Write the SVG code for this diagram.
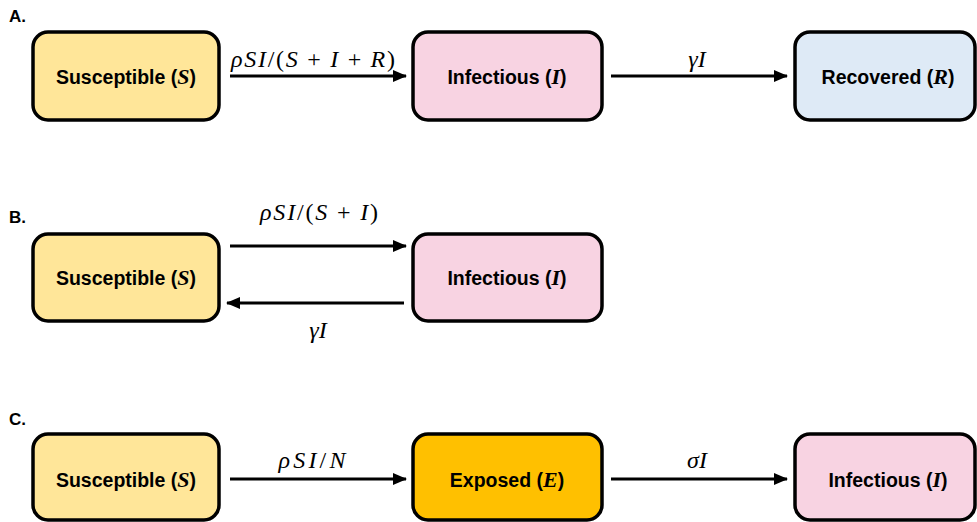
<svg xmlns="http://www.w3.org/2000/svg" width="977" height="522" viewBox="0 0 977 522">
<defs>
<marker id="ah" markerUnits="userSpaceOnUse" markerWidth="14" markerHeight="12" refX="13" refY="6" orient="auto">
<path d="M0,0 L14,6 L0,12 Z" fill="#000"/>
</marker>
<style>
.box{stroke:#000;stroke-width:3.5}
.s{fill:#FFE699}
.i{fill:#F8D3E2}
.r{fill:#DEEAF6}
.e{fill:#FFC000}
.nt{font-family:"Liberation Sans",Arial,sans-serif;font-weight:bold;font-size:19.5px;text-anchor:middle;fill:#000}
.m{font-family:"Liberation Serif","Times New Roman",serif;font-style:italic;font-size:22px}
.lbl{font-family:"Liberation Serif","Times New Roman",serif;font-style:italic;font-size:24px;text-anchor:middle;fill:#000}
.up{font-style:normal}
.pan{font-family:"Liberation Sans",Arial,sans-serif;font-weight:bold;font-size:17px;fill:#000}
.c{stroke:#000;stroke-width:3.2;fill:none;marker-end:url(#ah)}
</style>
</defs>
<text class="pan" x="9" y="22">A.</text>
<text class="pan" x="9" y="223">B.</text>
<text class="pan" x="9" y="425">C.</text>

<g id="A_S"><rect class="box s" x="33" y="32" width="186" height="88" rx="15"/><text class="nt" x="126" y="84">Susceptible (<tspan class="m">S</tspan>)</text></g>
<g id="A_I"><rect class="box i" x="413" y="32" width="189" height="88" rx="15"/><text class="nt" x="507" y="84">Infectious (<tspan class="m">I</tspan>)</text></g>
<g id="A_R"><rect class="box r" x="795" y="32" width="180" height="88" rx="15"/><text class="nt" x="888" y="84">Recovered (<tspan class="m">R</tspan>)</text></g>

<g id="B_S"><rect class="box s" x="33" y="234" width="186" height="87" rx="15"/><text class="nt" x="126" y="285">Susceptible (<tspan class="m">S</tspan>)</text></g>
<g id="B_I"><rect class="box i" x="413" y="234" width="189" height="87" rx="15"/><text class="nt" x="507" y="285">Infectious (<tspan class="m">I</tspan>)</text></g>

<g id="C_S"><rect class="box s" x="33" y="434" width="186" height="86" rx="15"/><text class="nt" x="126" y="487">Susceptible (<tspan class="m">S</tspan>)</text></g>
<g id="C_E"><rect class="box e" x="413" y="434" width="189" height="86" rx="15"/><text class="nt" x="507" y="487">Exposed (<tspan class="m">E</tspan>)</text></g>
<g id="C_I"><rect class="box i" x="795" y="434" width="180" height="86" rx="15"/><text class="nt" x="888" y="487">Infectious (<tspan class="m">I</tspan>)</text></g>

<g id="connectors">
<line class="c" x1="230" y1="76" x2="406" y2="76"/>
<line class="c" x1="611" y1="76" x2="787" y2="76"/>
<line class="c" x1="230" y1="246" x2="406" y2="246"/>
<line class="c" x1="404" y1="303" x2="227" y2="303"/>
<line class="c" x1="230" y1="479" x2="406" y2="479"/>
<line class="c" x1="611" y1="479" x2="787" y2="479"/>
<text class="lbl" x="313" y="67" textLength="164" lengthAdjust="spacing">ρSI<tspan class="up">/(</tspan>S<tspan class="up"> + </tspan>I<tspan class="up"> + </tspan>R<tspan class="up">)</tspan></text>
<text class="lbl" x="697" y="67">γI</text>
<text class="lbl" x="319" y="220" textLength="118" lengthAdjust="spacing">ρSI<tspan class="up">/(</tspan>S<tspan class="up"> + </tspan>I<tspan class="up">)</tspan></text>
<text class="lbl" x="318" y="338">γI</text>
<text class="lbl" x="312" y="468" textLength="67" lengthAdjust="spacing">ρSI<tspan class="up">/</tspan>N</text>
<text class="lbl" x="697" y="468">σI</text>
</g>
</svg>
